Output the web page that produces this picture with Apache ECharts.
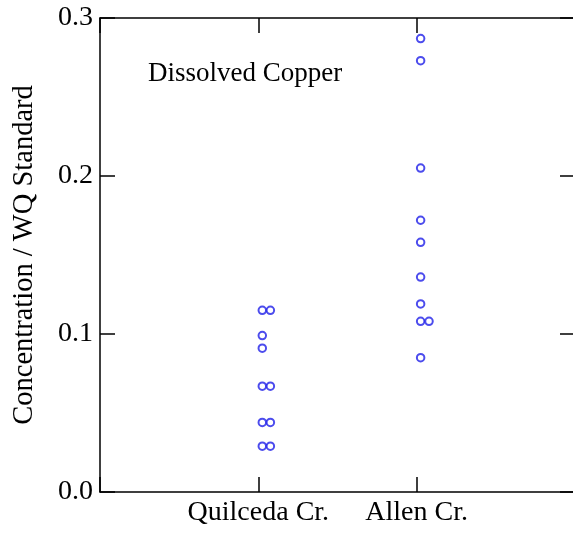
<!DOCTYPE html>
<html>
<head>
<meta charset="utf-8">
<script src="https://cdn.jsdelivr.net/npm/echarts@6/dist/echarts.min.js"></script>
<style>
  html, body { margin: 0; padding: 0; background: #fff; }
  #main { width: 573px; height: 537px; }
</style>
</head>
<body>
<div id="main"></div>
<script>
// categories sit at x = 1 and x = 2, points jittered slightly right
var categories = ["Quilceda Cr.", "Allen Cr."];
var quilcedaX = [1.025, 1.076, 1.025, 1.025, 1.025, 1.076, 1.025, 1.076, 1.025, 1.076];
var quilcedaY = [0.115, 0.115, 0.099, 0.091, 0.067, 0.067, 0.044, 0.044, 0.029, 0.029];
var allenX = [2.025, 2.025, 2.025, 2.025, 2.025, 2.025, 2.025, 2.025, 2.078, 2.025];
var allenY = [0.287, 0.273, 0.205, 0.172, 0.158, 0.136, 0.119, 0.108, 0.108, 0.085];
var yTicks = [0, 0.1, 0.2, 0.3];

var font = "'Liberation Serif', 'Times New Roman', serif";
var blue = "#1f1fe8";

function pairs(xs, ys) {
  var out = [];
  for (var i = 0; i < xs.length; i++) out.push([xs[i], ys[i]]);
  return out;
}

var axisLine = { show: true, onZero: false, lineStyle: { color: "#000", width: 1.5 } };
var tickIn = { show: true, inside: true, length: 15, lineStyle: { color: "#000", width: 1.5 } };

var myChart = echarts.init(document.getElementById("main"), null, { renderer: "canvas" });
var option = {
  animation: false,
  backgroundColor: "#fff",
  // right edge of the frame falls just outside the window, as in the original
  grid: { left: 100, right: -2, top: 18, bottom: 45, outerBoundsMode: "none", containLabel: false },
  graphic: [{
    type: "text",
    left: 148,
    top: 60,
    style: { text: "Dissolved Copper", font: "27px " + font, fill: "#000" }
  }],
  xAxis: [{
    type: "value", min: 0, max: 3, interval: 1,
    axisLine: axisLine, axisTick: tickIn, splitLine: { show: false },
    axisLabel: {
      margin: 7, fontSize: 28, fontFamily: font, color: "#000",
      formatter: function (v) { return categories[v - 1] || ""; }
    }
  }, {
    type: "value", position: "top", min: 0, max: 3, interval: 1,
    axisLine: axisLine, axisTick: tickIn, axisLabel: { show: false }, splitLine: { show: false }
  }],
  yAxis: [{
    type: "value", min: yTicks[0], max: yTicks[yTicks.length - 1], interval: 0.1,
    name: "Concentration / WQ Standard", nameLocation: "middle", nameGap: 61,
    nameTextStyle: { fontSize: 28.5, fontFamily: font, color: "#000" },
    axisLine: axisLine, axisTick: tickIn, splitLine: { show: false },
    axisLabel: {
      margin: 7, fontSize: 28, fontFamily: font, color: "#000",
      formatter: function (v) { return v.toFixed(1); }
    }
  }, {
    type: "value", position: "right", min: yTicks[0], max: yTicks[yTicks.length - 1], interval: 0.1,
    axisLine: axisLine, axisTick: tickIn, axisLabel: { show: false }, splitLine: { show: false }
  }],
  series: [{
    name: categories[0], type: "scatter", symbol: "emptyCircle", symbolSize: 7.5,
    itemStyle: { color: blue, borderColor: blue, borderWidth: 1.6 },
    data: pairs(quilcedaX, quilcedaY)
  }, {
    name: categories[1], type: "scatter", symbol: "emptyCircle", symbolSize: 7.5,
    itemStyle: { color: blue, borderColor: blue, borderWidth: 1.6 },
    data: pairs(allenX, allenY)
  }]
};
option && myChart.setOption(option);
</script>
</body>
</html>
